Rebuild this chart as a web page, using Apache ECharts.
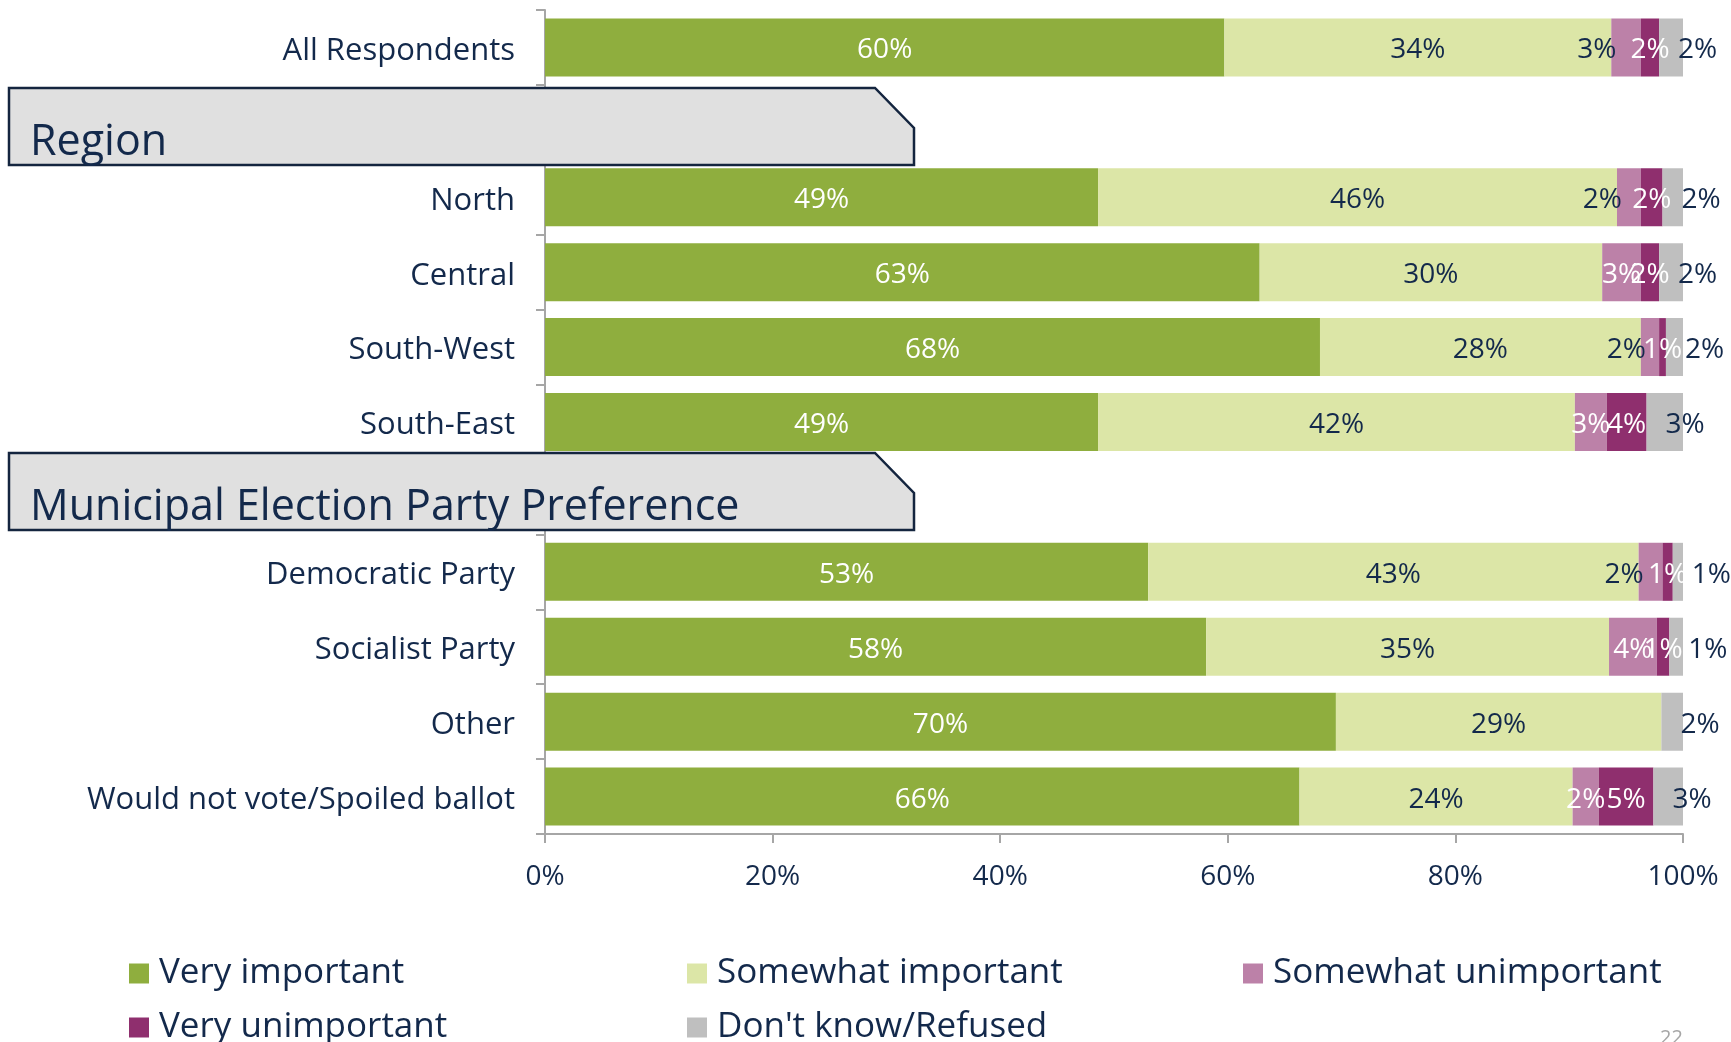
<!DOCTYPE html>
<html>
<head>
<meta charset="utf-8">
<title>Importance by region and party preference</title>
<script src="https://cdn.jsdelivr.net/npm/echarts@6.0.0/dist/echarts.min.js"></script>
<style>
	html, body { margin: 0; padding: 0; background: #ffffff; }
	#chart { width: 1731px; height: 1042px; }
</style>
</head>
<body>
<div id="chart"></div>
<script>
// Global variables
var navy = "#13294b";					// Text colour used all over the slide
var fontName = "'Open Sans', sans-serif";

// Rows, top to bottom ('' and ' ' are the slots behind the section headers)
var categories = ["All Respondents", "", "North", "Central", "South-West", "South-East", " ",
	"Democratic Party", "Socialist Party", "Other", "Would not vote/Spoiled ballot"];

// Shares in percent
var veryImportant       = [59.7, null, 48.6, 62.8, 68.1, 48.6, null, 53.0, 58.1, 69.5, 66.3];
var somewhatImportant   = [34.0, null, 45.6, 30.1, 28.2, 41.9, null, 43.1, 35.4, 28.6, 24.0];
var somewhatUnimportant = [2.6, null, 2.1, 3.4, 1.6, 2.8, null, 2.1, 4.2, 0, 2.3];
var veryUnimportant     = [1.6, null, 1.9, 1.6, 0.6, 3.5, null, 0.9, 1.1, 0, 4.8];
var dontKnow            = [2.1, null, 1.8, 2.1, 1.5, 3.2, null, 0.9, 1.2, 1.9, 2.6];

var seriesNames = ["Very important", "Somewhat important", "Somewhat unimportant", "Very unimportant", "Don't know/Refused"];
var seriesColors = ["#8fae3e", "#dce6a7", "#bc81a8", "#8f2f6e", "#bfbfbf"];

// Section headers drawn over the blank slots
var sections = ["Region", "Municipal Election Party Preference"];

// Rows where the "somewhat unimportant" label sits left of its bar
var suLabelOutside = ["All Respondents", "North", "South-West", "Democratic Party"];


// Label text, hidden for empty segments:
function pctLabel(p) {
	if (!p.value) return "";
	return Math.round(p.value) + "%";
}


// Builds one stacked bar series:
function makeSeries(idx, values, label) {
	return {
		name: seriesNames[idx],
		type: "bar",
		stack: "total",
		barWidth: 58,
		itemStyle: { color: seriesColors[idx] },
		label: Object.assign({
			show: true,
			fontFamily: fontName,
			fontSize: 28,
			offset: [0, 3],
			formatter: pctLabel
		}, label),
		data: values
	};
}


// Header box with the clipped top-right corner:
function sectionBox(title, top) {
	return {
		type: "group",
		children: [
			{
				type: "polygon",
				z: 100,
				shape: { points: [[9, top], [875, top], [914, top + 40], [914, top + 77], [9, top + 77]] },
				style: { fill: "#e0e0e0", stroke: "#14253f", lineWidth: 2.5 }
			},
			{
				type: "text",
				z: 101,
				style: {
					text: title,
					x: 30,
					y: top + 55,
					font: "43px " + fontName,
					fill: navy,
					verticalAlign: "middle"
				}
			}
		]
	};
}


var chart = echarts.init(document.getElementById("chart"));

// "Somewhat unimportant" data, some labels moved outside:
var suData = somewhatUnimportant.map(function(v, i) {
	if (suLabelOutside.indexOf(categories[i]) >= 0) {
		return { value: v, label: { position: "left", offset: [10, 3], color: navy } };
	}
	return v;
});

var option = {
	animation: false,
	grid: { left: 545, right: 48, top: 10, bottom: 208 },
	xAxis: {
		type: "value",
		min: 0,
		max: 100,
		interval: 20,
		axisLine: { show: true, lineStyle: { color: "#a6a6a6", width: 2 } },
		axisTick: { show: true, length: 9, lineStyle: { color: "#a6a6a6", width: 2 } },
		splitLine: { show: false },
		axisLabel: {
			formatter: "{value}%",
			margin: 29,
			fontFamily: fontName,
			fontSize: 28,
			color: navy
		}
	},
	yAxis: {
		type: "category",
		inverse: true,
		data: categories,
		axisLine: { show: true, lineStyle: { color: "#a6a6a6", width: 2 } },
		axisTick: { show: true, length: 9, interval: 0, lineStyle: { color: "#a6a6a6", width: 2 } },
		axisLabel: {
			margin: 30,
			interval: 0,
			formatter: "{c|{value}}",
			rich: {
				c: { fontFamily: fontName, fontSize: 31, color: navy, padding: [7, 0, 0, 0] }
			}
		}
	},
	legend: [
		{ data: [seriesNames[0], seriesNames[3]], left: 129 },
		{ data: [seriesNames[1], seriesNames[4]], left: 687 },
		{ data: [seriesNames[2]], left: 1243 }
	].map(function(l) {
		return Object.assign({
			top: 956,
			height: 150,
			padding: 0,
			orient: "vertical",
			icon: "rect",
			itemWidth: 20,
			itemHeight: 20,
			itemGap: 19,
			textStyle: { fontFamily: fontName, fontSize: 35, lineHeight: 35, color: navy, padding: [0, 0, 0, 5] }
		}, l);
	}),
	series: [
		makeSeries(0, veryImportant, { position: "inside", color: "#ffffff" }),
		makeSeries(1, somewhatImportant, { position: "inside", color: navy }),
		makeSeries(2, suData, { position: "inside", color: "#ffffff" }),
		makeSeries(3, veryUnimportant, { position: "inside", color: "#ffffff" }),
		makeSeries(4, dontKnow, { position: "insideLeft", offset: [14, 3], color: navy })
	],
	graphic: [
		sectionBox(sections[0], 88),
		sectionBox(sections[1], 453),
		{
			// Slide number, cut off by the bottom edge
			type: "text",
			z: 100,
			style: { text: "22", x: 1660, y: 1028, font: "20px " + fontName, fill: "#a6a6a6", verticalAlign: "top" }
		}
	]
};

chart.setOption(option);
</script>
</body>
</html>
